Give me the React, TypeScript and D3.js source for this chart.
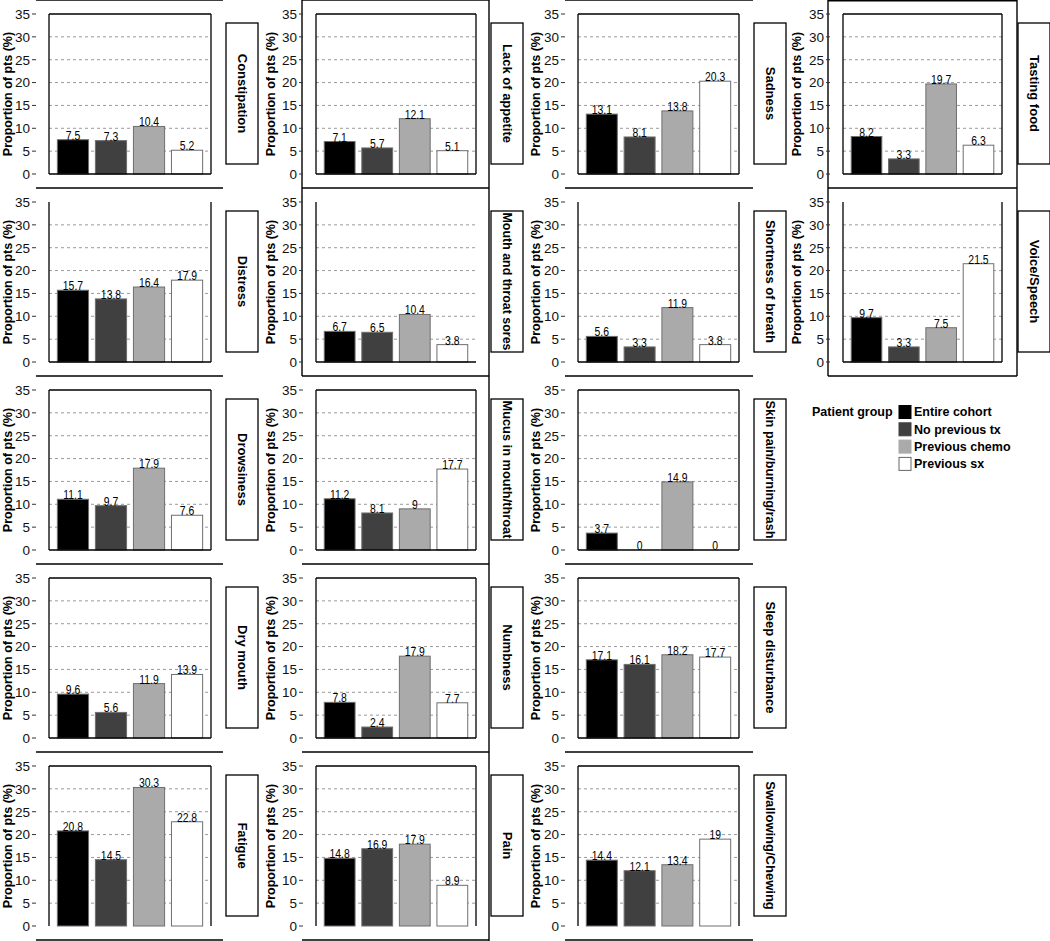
import React from 'react';
import * as d3 from 'd3';

// ---------- data ----------
const symptoms = [
  'Constipation', 'Distress', 'Drowsiness', 'Dry mouth', 'Fatigue',
  'Lack of appetite', 'Mouth and throat sores', 'Mucus in mouth/throat', 'Numbness', 'Pain',
  'Sadness', 'Shortness of breath', 'Skin pain/burning/rash', 'Sleep disturbance', 'Swallowing/Chewing',
  'Tasting food', 'Voice/Speech',
];
const groups = ['Entire cohort', 'No previous tx', 'Previous chemo', 'Previous sx'];
const entireCohort = [7.5, 15.7, 11.1, 9.6, 20.8, 7.1, 6.7, 11.2, 7.8, 14.8, 13.1, 5.6, 3.7, 17.1, 14.4, 8.2, 9.7];
const noPreviousTx = [7.3, 13.8, 9.7, 5.6, 14.5, 5.7, 6.5, 8.1, 2.4, 16.9, 8.1, 3.3, 0, 16.1, 12.1, 3.3, 3.3];
const previousChemo = [10.4, 16.4, 17.9, 11.9, 30.3, 12.1, 10.4, 9, 17.9, 17.9, 13.8, 11.9, 14.9, 18.2, 13.4, 19.7, 7.5];
const previousSx = [5.2, 17.9, 7.6, 13.9, 22.8, 5.1, 3.8, 17.7, 7.7, 8.9, 20.3, 3.8, 0, 17.7, 19, 6.3, 21.5];
const yTicks = [0, 5, 10, 15, 20, 25, 30, 35];
const gridTicks = [5, 10, 15, 20, 25, 30];
const yTitle = 'Proportion of pts (%)';
const legendTitle = 'Patient group';

// ---------- layout / style ----------
const W = 1050;
const H = 941;
const ROW_H = 188;
const ROWS = 5;
const FONT = '"Liberation Sans", Arial, Helvetica, sans-serif';
const fills = ['#000000', '#404040', '#aaaaaa', '#ffffff'];
const barStroke = '#6e6e6e';
const COLS = [
  { boxL: 49, boxR: 211, stripL: 226, titleX: 8, lineL: 36, lineR: 223 },
  { boxL: 316, boxR: 476, stripL: 491, titleX: 271, lineL: 302, lineR: 489 },
  { boxL: 578, boxR: 739, stripL: 754, titleX: 536, lineL: 565, lineR: 753 },
  { boxL: 843, boxR: 1002, stripL: 1018, titleX: 797, lineL: 828, lineR: 1017 },
];
const STRIP_W = 32;

const series = [entireCohort, noPreviousTx, previousChemo, previousSx];

function Panel({ idx }: { idx: number }) {
  const col = Math.floor(idx / ROWS);
  const row = idx % ROWS;
  const c = COLS[col];
  const top = row * ROW_H;
  const y = d3.scaleLinear().domain([0, 35]).range([top + 174, top + 14]);
  const x = d3.scaleBand<string>().domain(groups).range([c.boxL, c.boxR]).paddingInner(0.18).paddingOuter(0.22);
  const y0 = y(0);
  const y35 = y(35);
  const noTop = row === 1;
  const noBottom = row === 4;
  const noRight = row === 1 && col === 1;
  const stripTop = top + 23;
  const stripBot = top + 164;
  const label = symptoms[idx];
  const longLabel = label.length > 20;
  return (
    <g>
      {gridTicks.map((t) => (
        <line key={'g' + t} x1={c.boxL} x2={c.boxR} y1={y(t)} y2={y(t)} stroke="#9a9a9a" strokeDasharray="3,3" strokeWidth={1} />
      ))}
      {groups.map((g, gi) => {
        const v = series[gi][idx];
        const bx = x(g) as number;
        const bw = x.bandwidth();
        const yt = y(v);
        return (
          <g key={g}>
            {v > 0 && (
              <rect x={bx} y={yt} width={bw} height={y0 - yt} fill={fills[gi]} stroke={barStroke} strokeWidth={1} />
            )}
            <text
              transform={`translate(${bx + bw / 2},${yt}) scale(0.8,1)`}
              textAnchor="middle"
              fontSize={13}
              fontFamily={FONT}
              fill="#000"
            >
              {String(v)}
            </text>
          </g>
        );
      })}
      {!noTop && <line x1={c.boxL} x2={c.boxR} y1={y35} y2={y35} stroke="#000" strokeWidth={1.3} />}
      {!noBottom && <line x1={c.boxL} x2={c.boxR} y1={y0} y2={y0} stroke="#000" strokeWidth={1.3} />}
      <line x1={c.boxL} x2={c.boxL} y1={y35} y2={y0} stroke="#000" strokeWidth={1.3} />
      {!noRight && <line x1={c.boxR} x2={c.boxR} y1={y35} y2={y0} stroke="#000" strokeWidth={1.3} />}
      {yTicks.map((t) => (
        <g key={'t' + t}>
          <line x1={c.boxL - 17} x2={c.boxL - 13} y1={y(t)} y2={y(t)} stroke="#333" strokeWidth={1} />
          <text x={c.boxL - 19} y={y(t)} dy="0.36em" textAnchor="end" fontSize={13.5} fontFamily={FONT} fill="#111">
            {t}
          </text>
        </g>
      ))}
      <text
        transform={`translate(${c.titleX},${(y0 + y35) / 2}) rotate(-90)`}
        textAnchor="middle"
        dominantBaseline="central"
        fontSize={12.5}
        fontWeight="bold"
        fontFamily={FONT}
        fill="#000"
      >
        {yTitle}
      </text>
      <rect x={c.stripL} y={stripTop} width={STRIP_W} height={stripBot - stripTop} fill="#fff" stroke="#000" strokeWidth={1.3} />
      <text
        transform={`translate(${c.stripL + STRIP_W / 2},${(stripTop + stripBot) / 2}) rotate(90)`}
        textAnchor="middle"
        dominantBaseline="central"
        fontSize={13}
        fontWeight="bold"
        fontFamily={FONT}
        fill="#000"
        {...(longLabel ? { textLength: 138, lengthAdjust: 'spacingAndGlyphs' } : {})}
      >
        {label}
      </text>
    </g>
  );
}

function Frames() {
  const ls: JSX.Element[] = [];
  const L = (k: string, x1: number, y1: number, x2: number, y2: number) =>
    ls.push(<line key={k} x1={x1} y1={y1} x2={x2} y2={y2} stroke="#000" strokeWidth={1.4} />);
  for (let r = 0; r <= ROWS; r++) {
    const yy = Math.min(r * ROW_H, 940);
    L('c0' + r, COLS[0].lineL, yy, COLS[0].lineR, yy);
    L('c1' + r, COLS[1].lineL, yy, COLS[1].lineR, yy);
    L('c2' + r, COLS[2].lineL, yy, COLS[2].lineR, yy);
  }
  L('c1v1', COLS[1].lineL, 0, COLS[1].lineL, 2 * ROW_H);
  L('c1v2', COLS[1].lineR, 0, COLS[1].lineR, H);
  L('c3h0', COLS[3].lineL, 0.7, COLS[3].lineR, 0.7);
  L('c3h1', COLS[3].lineL, ROW_H, COLS[3].lineR, ROW_H);
  L('c3h2', COLS[3].lineL, 2 * ROW_H, COLS[3].lineR, 2 * ROW_H);
  L('c3v1', COLS[3].lineL, 0, COLS[3].lineL, 2 * ROW_H);
  L('c3v2', COLS[3].lineR, 0, COLS[3].lineR, 2 * ROW_H);
  return <g>{ls}</g>;
}

function Legend() {
  const x0 = 812;
  const sqX = 899;
  const y0 = 412;
  const step = 17.3;
  return (
    <g fontFamily={FONT}>
      <text x={x0} y={y0} dy="0.35em" fontSize={12.5} fontWeight="bold" fill="#000">
        {legendTitle}
      </text>
      {groups.map((g, i) => (
        <g key={g}>
          <rect x={sqX} y={y0 + i * step - 6.5} width={12} height={13} fill={fills[i]} stroke={i === 3 ? '#666' : fills[i]} strokeWidth={1} />
          <text x={914} y={y0 + i * step} dy="0.35em" fontSize={12.5} fontWeight="bold" fill="#000">
            {g}
          </text>
        </g>
      ))}
    </g>
  );
}

export default function App() {
  return (
    <div style={{ position: 'absolute', left: 0, top: 0, width: W, height: H, background: '#fff' }}>
      <svg width={W} height={H} viewBox={`0 0 ${W} ${H}`} style={{ display: 'block' }}>
        <rect x={0} y={0} width={W} height={H} fill="#fff" />
        <Frames />
        {symptoms.map((s, i) => (
          <Panel key={s} idx={i} />
        ))}
        <Legend />
      </svg>
    </div>
  );
}
